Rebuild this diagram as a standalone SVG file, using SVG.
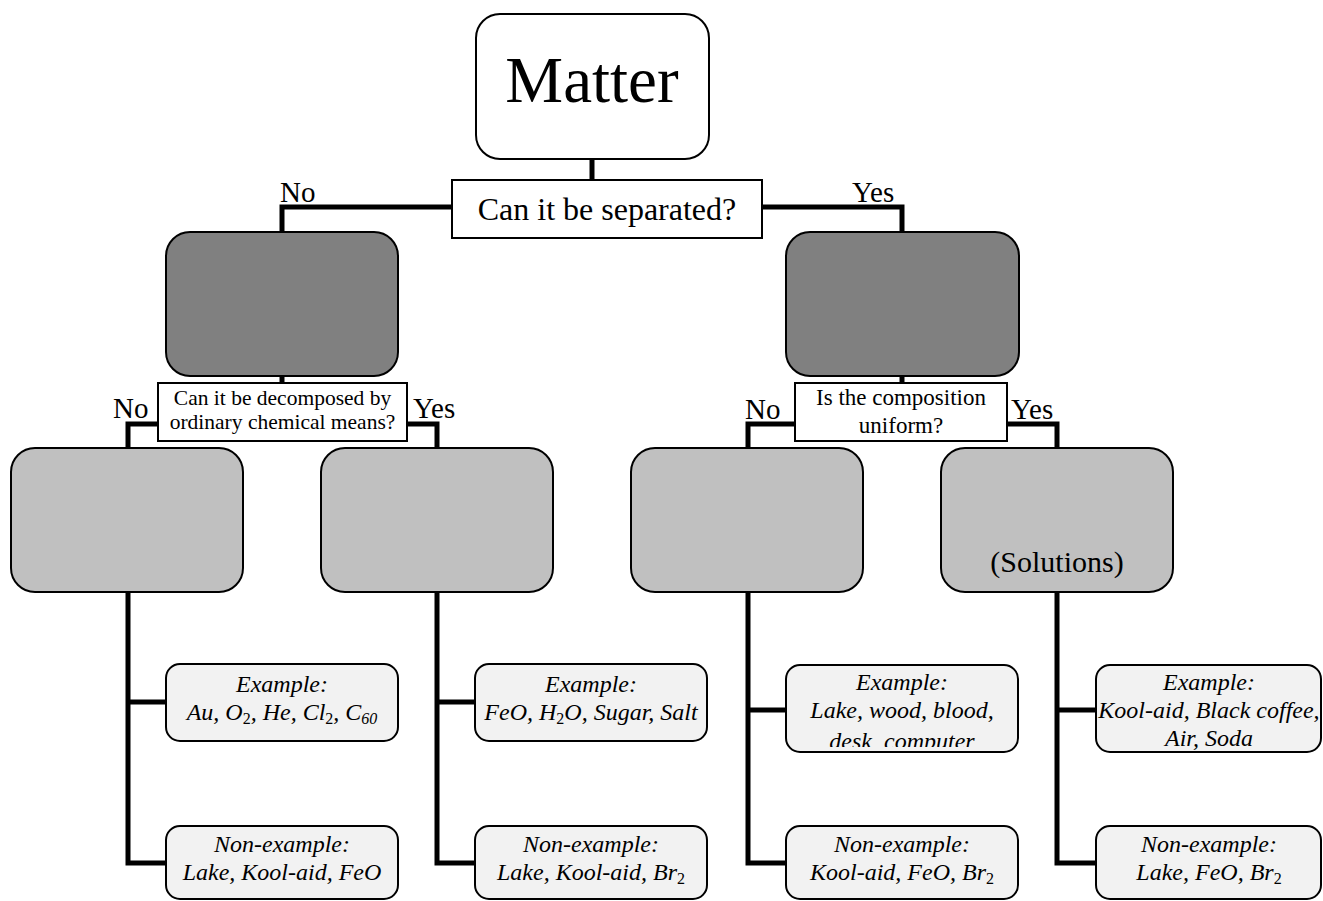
<svg xmlns="http://www.w3.org/2000/svg" width="1323" height="901" viewBox="0 0 1323 901">
<style>
  .conn { fill: none; stroke: #000; stroke-width: 5; stroke-linejoin: miter; }
  .dark { fill: #808080; stroke: #000; stroke-width: 2; }
  .light { fill: #c0c0c0; stroke: #000; stroke-width: 2; }
  .root { fill: #fff; stroke: #000; stroke-width: 2; }
  .q { fill: #fff; stroke: #000; stroke-width: 2; }
  .ex { fill: #f2f2f2; stroke: #000; stroke-width: 2; }
  text { font-family: "Liberation Serif", "Times New Roman", serif; fill: #000; }
  .lbl { font-size: 29px; }
  .qt { font-size: 21.5px; text-anchor: middle; }
  .qt2 { font-size: 23px; text-anchor: middle; }
  .et { font-size: 24px; font-style: italic; text-anchor: middle; }
  .sub { font-size: 16px; }
</style>
<defs>
  <clipPath id="clip3"><rect x="787" y="666" width="230" height="81"/></clipPath>
</defs>
<rect width="1323" height="901" fill="#fff"/>

<g id="connectors">
  <polyline class="conn" points="592,158 592,182"/>
  <polyline class="conn" points="453,207 282,207 282,233"/>
  <polyline class="conn" points="761,207 902,207 902,233"/>
  <polyline class="conn" points="282,375 282,384"/>
  <polyline class="conn" points="159,424 128,424 128,449"/>
  <polyline class="conn" points="406,424 437,424 437,449"/>
  <polyline class="conn" points="902,375 902,384"/>
  <polyline class="conn" points="796,424 748,424 748,449"/>
  <polyline class="conn" points="1006,424 1057,424 1057,449"/>
  <polyline class="conn" points="128,591 128,863 167,863"/>
  <polyline class="conn" points="128,702 167,702"/>
  <polyline class="conn" points="437,591 437,863 476,863"/>
  <polyline class="conn" points="437,702 476,702"/>
  <polyline class="conn" points="748,591 748,863 787,863"/>
  <polyline class="conn" points="748,710 787,710"/>
  <polyline class="conn" points="1057,591 1057,863 1097,863"/>
  <polyline class="conn" points="1057,710 1097,710"/>
</g>

<g id="matter">
  <rect class="root" x="476" y="14" width="233" height="145" rx="24"/>
  <text x="592" y="102" font-size="65" text-anchor="middle">Matter</text>
</g>

<g id="q-separated">
  <rect class="q" x="452" y="180" width="310" height="58"/>
  <text x="607" y="220" font-size="32" text-anchor="middle">Can it be separated?</text>
</g>
<text class="lbl" x="280" y="202">No</text>
<text class="lbl" x="852" y="202">Yes</text>

<g id="pure-substance">
  <rect class="dark" x="166" y="232" width="232" height="144" rx="24"/>
</g>
<g id="mixture">
  <rect class="dark" x="786" y="232" width="233" height="144" rx="24"/>
</g>

<g id="q-decomposed">
  <rect class="q" x="158" y="383" width="249" height="58"/>
  <text class="qt" x="282.5" y="405">Can it be decomposed by</text>
  <text class="qt" x="282.5" y="429">ordinary chemical means?</text>
</g>
<text class="lbl" x="113" y="418">No</text>
<text class="lbl" x="413" y="418">Yes</text>

<g id="q-uniform">
  <rect class="q" x="795" y="383" width="212" height="58"/>
  <text class="qt2" x="901" y="405">Is the composition</text>
  <text class="qt2" x="901" y="433">uniform?</text>
</g>
<text class="lbl" x="745" y="419">No</text>
<text class="lbl" x="1011" y="419">Yes</text>

<g id="element">
  <rect class="light" x="11" y="448" width="232" height="144" rx="24"/>
</g>
<g id="compound">
  <rect class="light" x="321" y="448" width="232" height="144" rx="24"/>
</g>
<g id="heterogeneous">
  <rect class="light" x="631" y="448" width="232" height="144" rx="24"/>
</g>
<g id="homogeneous">
  <rect class="light" x="941" y="448" width="232" height="144" rx="24"/>
  <text x="1057" y="572" font-size="30" text-anchor="middle">(Solutions)</text>
</g>

<g id="ex-element">
  <rect class="ex" x="166" y="664" width="232" height="77" rx="14"/>
  <text class="et" x="282" y="692">Example:</text>
  <text class="et" x="282" y="720">Au, O<tspan class="sub" font-style="normal" dy="4">2</tspan><tspan dy="-4">, He, Cl</tspan><tspan class="sub" font-style="normal" dy="4">2</tspan><tspan dy="-4">, C</tspan><tspan class="sub" dy="4">60</tspan></text>
</g>
<g id="nonex-element">
  <rect class="ex" x="166" y="826" width="232" height="73" rx="14"/>
  <text class="et" x="282" y="852">Non-example:</text>
  <text class="et" x="282" y="880">Lake, Kool-aid, FeO</text>
</g>

<g id="ex-compound">
  <rect class="ex" x="475" y="664" width="232" height="77" rx="14"/>
  <text class="et" x="591" y="692">Example:</text>
  <text class="et" x="591" y="720">FeO, H<tspan class="sub" font-style="normal" dy="4">2</tspan><tspan dy="-4">O, Sugar, Salt</tspan></text>
</g>
<g id="nonex-compound">
  <rect class="ex" x="475" y="826" width="232" height="73" rx="14"/>
  <text class="et" x="591" y="852">Non-example:</text>
  <text class="et" x="591" y="880">Lake, Kool-aid, Br<tspan class="sub" font-style="normal" dy="4">2</tspan></text>
</g>

<g id="ex-heterogeneous">
  <rect class="ex" x="786" y="665" width="232" height="87" rx="14"/>
  <g clip-path="url(#clip3)">
    <text class="et" x="902" y="690">Example:</text>
    <text class="et" x="902" y="718">Lake, wood, blood,</text>
    <text class="et" x="902" y="749">desk, computer</text>
  </g>
</g>
<g id="nonex-heterogeneous">
  <rect class="ex" x="786" y="826" width="232" height="73" rx="14"/>
  <text class="et" x="902" y="852">Non-example:</text>
  <text class="et" x="902" y="880">Kool-aid, FeO, Br<tspan class="sub" font-style="normal" dy="4">2</tspan></text>
</g>

<g id="ex-homogeneous">
  <rect class="ex" x="1096" y="665" width="225" height="87" rx="14"/>
  <text class="et" x="1209" y="690">Example:</text>
  <text class="et" x="1209" y="718">Kool-aid, Black coffee,</text>
  <text class="et" x="1209" y="746">Air, Soda</text>
</g>
<g id="nonex-homogeneous">
  <rect class="ex" x="1096" y="826" width="225" height="73" rx="14"/>
  <text class="et" x="1209" y="852">Non-example:</text>
  <text class="et" x="1209" y="880">Lake, FeO, Br<tspan class="sub" font-style="normal" dy="4">2</tspan></text>
</g>
</svg>
